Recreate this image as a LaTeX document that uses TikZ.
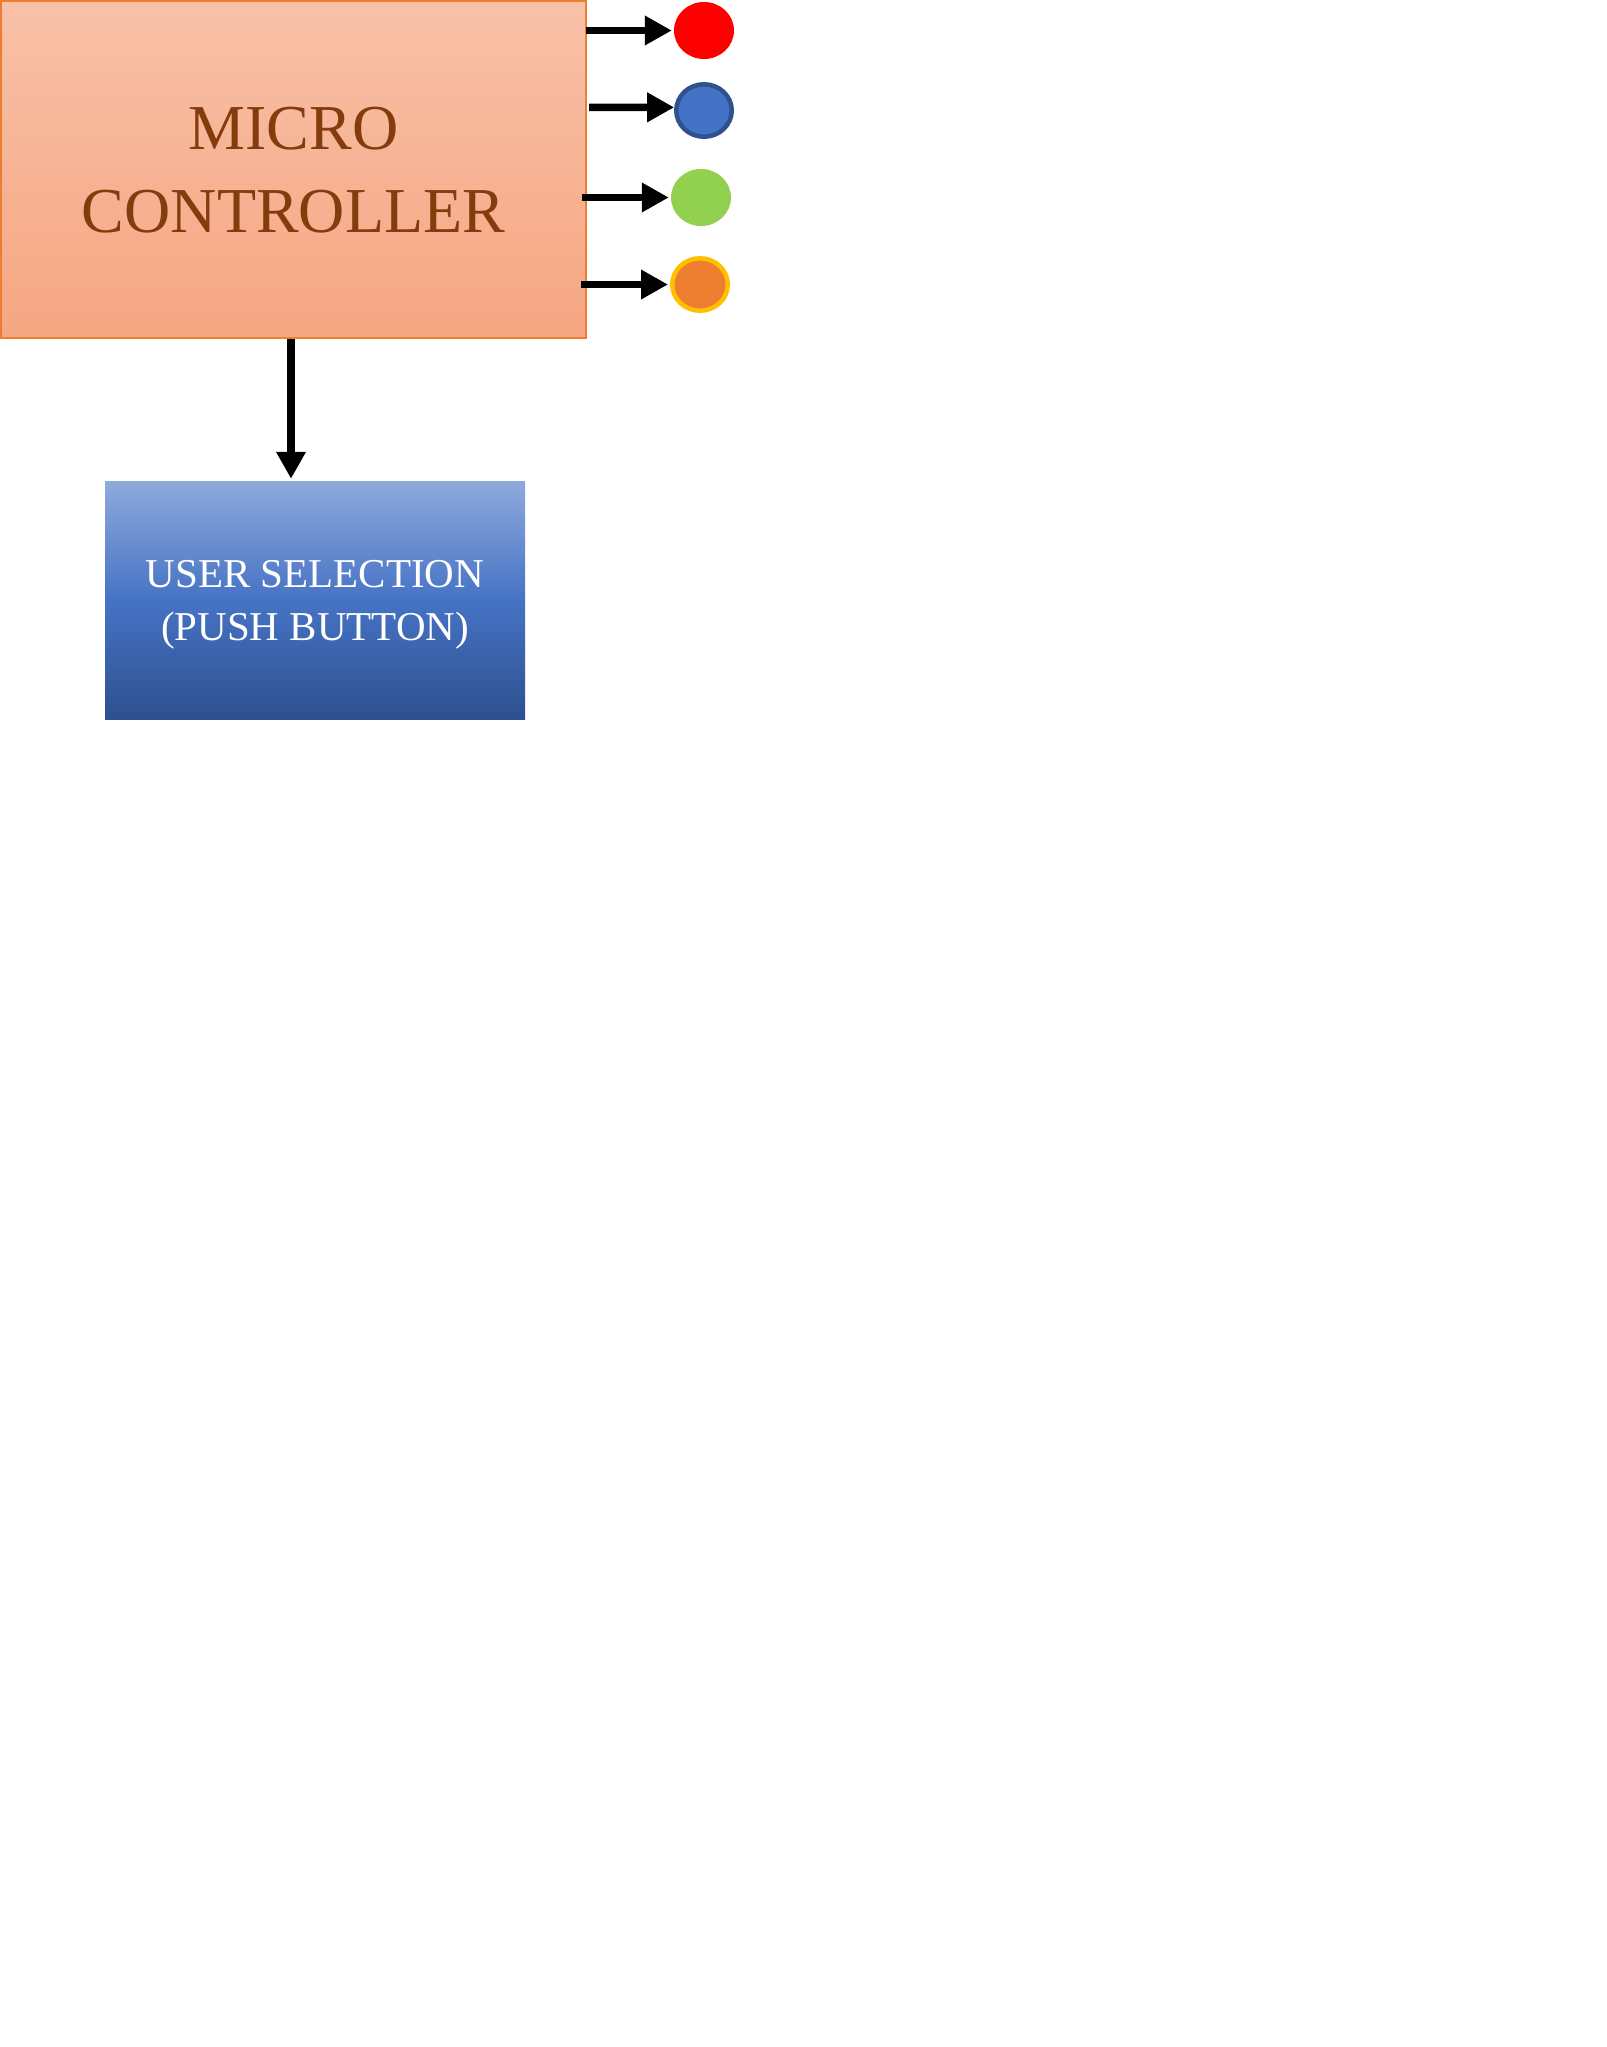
\documentclass[tikz,border=0pt]{standalone}
\usepackage{fontspec}
\setmainfont{Liberation Serif}
\usetikzlibrary{arrows.meta,shapes.geometric}
\definecolor{mctop}{RGB}{248,193,168}
\definecolor{mcbot}{RGB}{246,166,130}
\definecolor{mcborder}{RGB}{237,125,49}
\definecolor{mctext}{RGB}{132,60,12}
\definecolor{ustop}{RGB}{143,170,220}
\definecolor{usmid}{RGB}{70,115,197}
\definecolor{usbot}{RGB}{46,80,143}
\definecolor{ledred}{RGB}{255,0,0}
\definecolor{ledblue}{RGB}{68,114,196}
\definecolor{ledblueb}{RGB}{47,82,143}
\definecolor{ledgreen}{RGB}{146,208,80}
\definecolor{ledorange}{RGB}{237,125,49}
\definecolor{ledorangeb}{RGB}{255,192,0}
\tikzset{
  mcbox/.style={rectangle, draw=mcborder, line width=2pt, top color=mctop, bottom color=mcbot,
    text=mctext, align=center, inner sep=0pt, font=\fontsize{64}{82.7}\selectfont, text depth=0pt},
  usbox/.style={rectangle, top color=ustop, bottom color=usbot, middle color=usmid,
    text=white, align=center, inner sep=0pt, font=\fontsize{41}{53}\selectfont, text depth=0pt},
  led/.style={ellipse, inner sep=0pt},
  arr/.style={line width=7.5pt, -{Triangle[length=27pt,width=28pt]}, draw=black}
}
\begin{document}
\begin{tikzpicture}[x=1pt,y=-1pt]
\useasboundingbox (0,0) rectangle (1606,2047);
\node[mcbox, minimum width=585pt, minimum height=337pt] (mc) at (293.5,169.5) {MICRO\\CONTROLLER};
\node[usbox, minimum width=420pt, minimum height=238pt] (us) at (315,600) {USER SELECTION\\(PUSH BUTTON)};
\node[led, fill=ledred, minimum width=60pt, minimum height=57pt] (r) at (704,30.5) {};
\node[led, fill=ledblue, draw=ledblueb, line width=4.5pt, minimum width=55.5pt, minimum height=52.5pt] (b) at (704,110.5) {};
\node[led, fill=ledgreen, minimum width=60pt, minimum height=57pt] (g) at (701,197.5) {};
\node[led, fill=ledorange, draw=ledorangeb, line width=4.5pt, minimum width=55.5pt, minimum height=52.5pt] (o) at (700,284.5) {};
\coordinate (sr) at (586,30.5);
\coordinate (sb) at (589,107.3);
\coordinate (sg) at (582,197.5);
\coordinate (so) at (581,284.5);
\coordinate (sd) at (291,339);
\draw[arr, shorten >=2pt] (sr) -- (r.west);
\draw[arr] (sb) -- (b.174);
\draw[arr, shorten >=2pt] (sg) -- (g.west);
\draw[arr, shorten >=2pt] (so) -- (o.west);
\draw[arr, shorten >=2pt] (sd) -- (sd |- us.north);
\end{tikzpicture}
\end{document}
